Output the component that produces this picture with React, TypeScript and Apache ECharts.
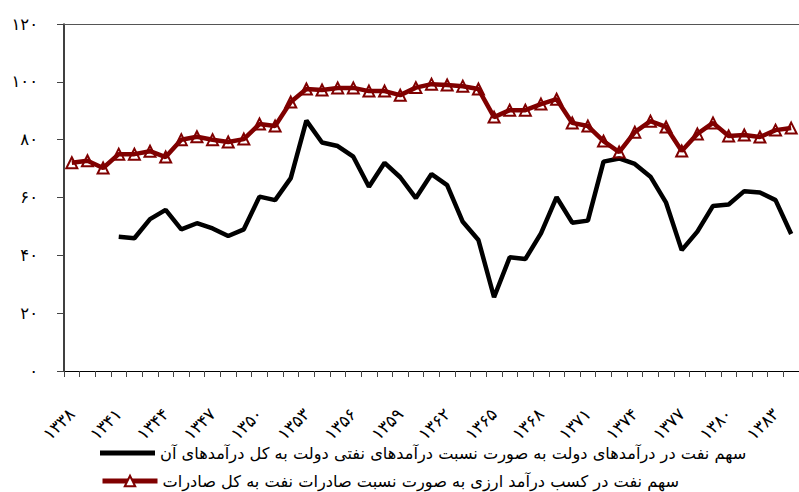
import React, { useEffect, useRef } from "react";
import * as echarts from "echarts";

const years = [
  "۱۳۳۸", "۱۳۳۹", "۱۳۴۰", "۱۳۴۱", "۱۳۴۲", "۱۳۴۳", "۱۳۴۴", "۱۳۴۵", "۱۳۴۶", "۱۳۴۷",
  "۱۳۴۸", "۱۳۴۹", "۱۳۵۰", "۱۳۵۱", "۱۳۵۲", "۱۳۵۳", "۱۳۵۴", "۱۳۵۵", "۱۳۵۶", "۱۳۵۷",
  "۱۳۵۸", "۱۳۵۹", "۱۳۶۰", "۱۳۶۱", "۱۳۶۲", "۱۳۶۳", "۱۳۶۴", "۱۳۶۵", "۱۳۶۶", "۱۳۶۷",
  "۱۳۶۸", "۱۳۶۹", "۱۳۷۰", "۱۳۷۱", "۱۳۷۲", "۱۳۷۳", "۱۳۷۴", "۱۳۷۵", "۱۳۷۶", "۱۳۷۷",
  "۱۳۷۸", "۱۳۷۹", "۱۳۸۰", "۱۳۸۱", "۱۳۸۲", "۱۳۸۳", "۱۳۸۴",
];

const revenueShare = [
  null, null, null, 46.4, 45.9, 52.5, 55.7, 49, 51.1, 49.3,
  46.7, 49, 60.3, 59.1, 66.7, 86.6, 79, 77.8, 74.1, 63.7,
  72, 67, 59.8, 68.1, 64.3, 51.6, 45.3, 25.5, 39.3, 38.7,
  47.6, 60.1, 51.3, 52, 72.4, 73.5, 71.6, 67.2, 58.2, 41.8,
  48.2, 57.1, 57.6, 62.2, 61.7, 59.1, 47.4,
];

const exportShare = [
  72, 72.7, 70.2, 75, 75, 76, 74, 80, 81, 80,
  79.2, 80.2, 85.4, 84.7, 93, 97.5, 97.2, 97.9, 97.9, 96.8,
  96.8, 95.4, 98, 99.2, 98.9, 98.5, 97.5, 87.8, 90.2, 90.2,
  92.3, 94, 85.8, 84.7, 79.5, 75.7, 82.6, 86.4, 84.4, 76.1,
  82, 85.8, 81.3, 81.6, 80.9, 83.3, 84,
];

const yTickLabels: Record<number, string> = {
  0: "۰", 20: "۲۰", 40: "۴۰", 60: "۶۰", 80: "۸۰", 100: "۱۰۰", 120: "۱۲۰",
};

const seriesNames = [
  "سهم نفت در درآمدهای دولت به صورت نسبت درآمدهای نفتی دولت به کل درآمدهای آن",
  "سهم نفت در کسب درآمد ارزی به صورت نسبت صادرات نفت به کل صادرات",
];

const FONT = "DejaVu Sans";
const RED = "#800000";

export default function App() {
  const ref = useRef<HTMLDivElement>(null);
  useEffect(() => {
    if (!ref.current) return;
    const chart = echarts.init(ref.current, undefined, { renderer: "svg" });
    const legendBase = {
      orient: "horizontal",
      left: 95,
      itemWidth: 55,
      itemHeight: 13,
      itemGap: 4,
      textStyle: { fontFamily: FONT, fontSize: 16.2, color: "#000" },
    };
    chart.setOption({
      animation: false,
      backgroundColor: "#ffffff",
      textStyle: { fontFamily: FONT, color: "#000" },
      grid: { left: 64, top: 24, right: -9, bottom: 121, containLabel: false },
      legend: [
        {
          ...legendBase,
          top: 440,
          data: [
            {
              name: seriesNames[0],
              icon: "path://M0,0H55V5H0Z",
              itemStyle: { color: "#000" },
            },
          ],
        },
        {
          ...legendBase,
          top: 468,
          data: [
            {
              name: seriesNames[1],
              lineStyle: { width: 5, color: RED },
              itemStyle: { color: "#ffffff", borderColor: RED, borderWidth: 2 },
            },
          ],
        },
      ],
      xAxis: [
        {
          type: "category",
          data: years,
          boundaryGap: true,
          axisLine: { show: true, lineStyle: { color: "#000", width: 1 } },
          axisTick: { show: true, interval: 0, length: 6, inside: false, lineStyle: { color: "#444" } },
          axisLabel: {
            interval: 2,
            rotate: 45,
            margin: 40,
            fontSize: 17,
            fontFamily: FONT,
            color: "#000",
          },
          splitLine: { show: false },
        },
        {
          type: "category",
          data: years,
          position: "top",
          axisLine: { show: true, lineStyle: { color: "#555", width: 1 } },
          axisTick: { show: false },
          axisLabel: { show: false },
          splitLine: { show: false },
        },
      ],
      yAxis: {
        type: "value",
        min: 0,
        max: 120,
        interval: 20,
        axisLine: { show: true, lineStyle: { color: "#000", width: 1.5 } },
        axisTick: { show: true, length: 7, lineStyle: { color: "#444" } },
        axisLabel: {
          margin: 26,
          fontSize: 16.5,
          fontFamily: FONT,
          color: "#000",
          formatter: (v: number) => yTickLabels[v] ?? String(v),
        },
        splitLine: { show: false },
      },
      series: [
        {
          name: seriesNames[0],
          type: "line",
          data: revenueShare,
          symbol: "none",
          connectNulls: false,
          lineStyle: { color: "#000", width: 4.5 },
          itemStyle: { color: "#000" },
        },
        {
          name: seriesNames[1],
          type: "line",
          data: exportShare,
          symbol: "triangle",
          symbolSize: 11,
          showAllSymbol: true,
          lineStyle: { color: RED, width: 4.5 },
          itemStyle: { color: "rgba(255,255,255,0)", borderColor: RED, borderWidth: 2 },
        },
      ],
    });
    return () => chart.dispose();
  }, []);
  return (
    <div
      ref={ref}
      style={{ position: "absolute", left: 0, top: 0, width: 799, height: 492 }}
    />
  );
}
